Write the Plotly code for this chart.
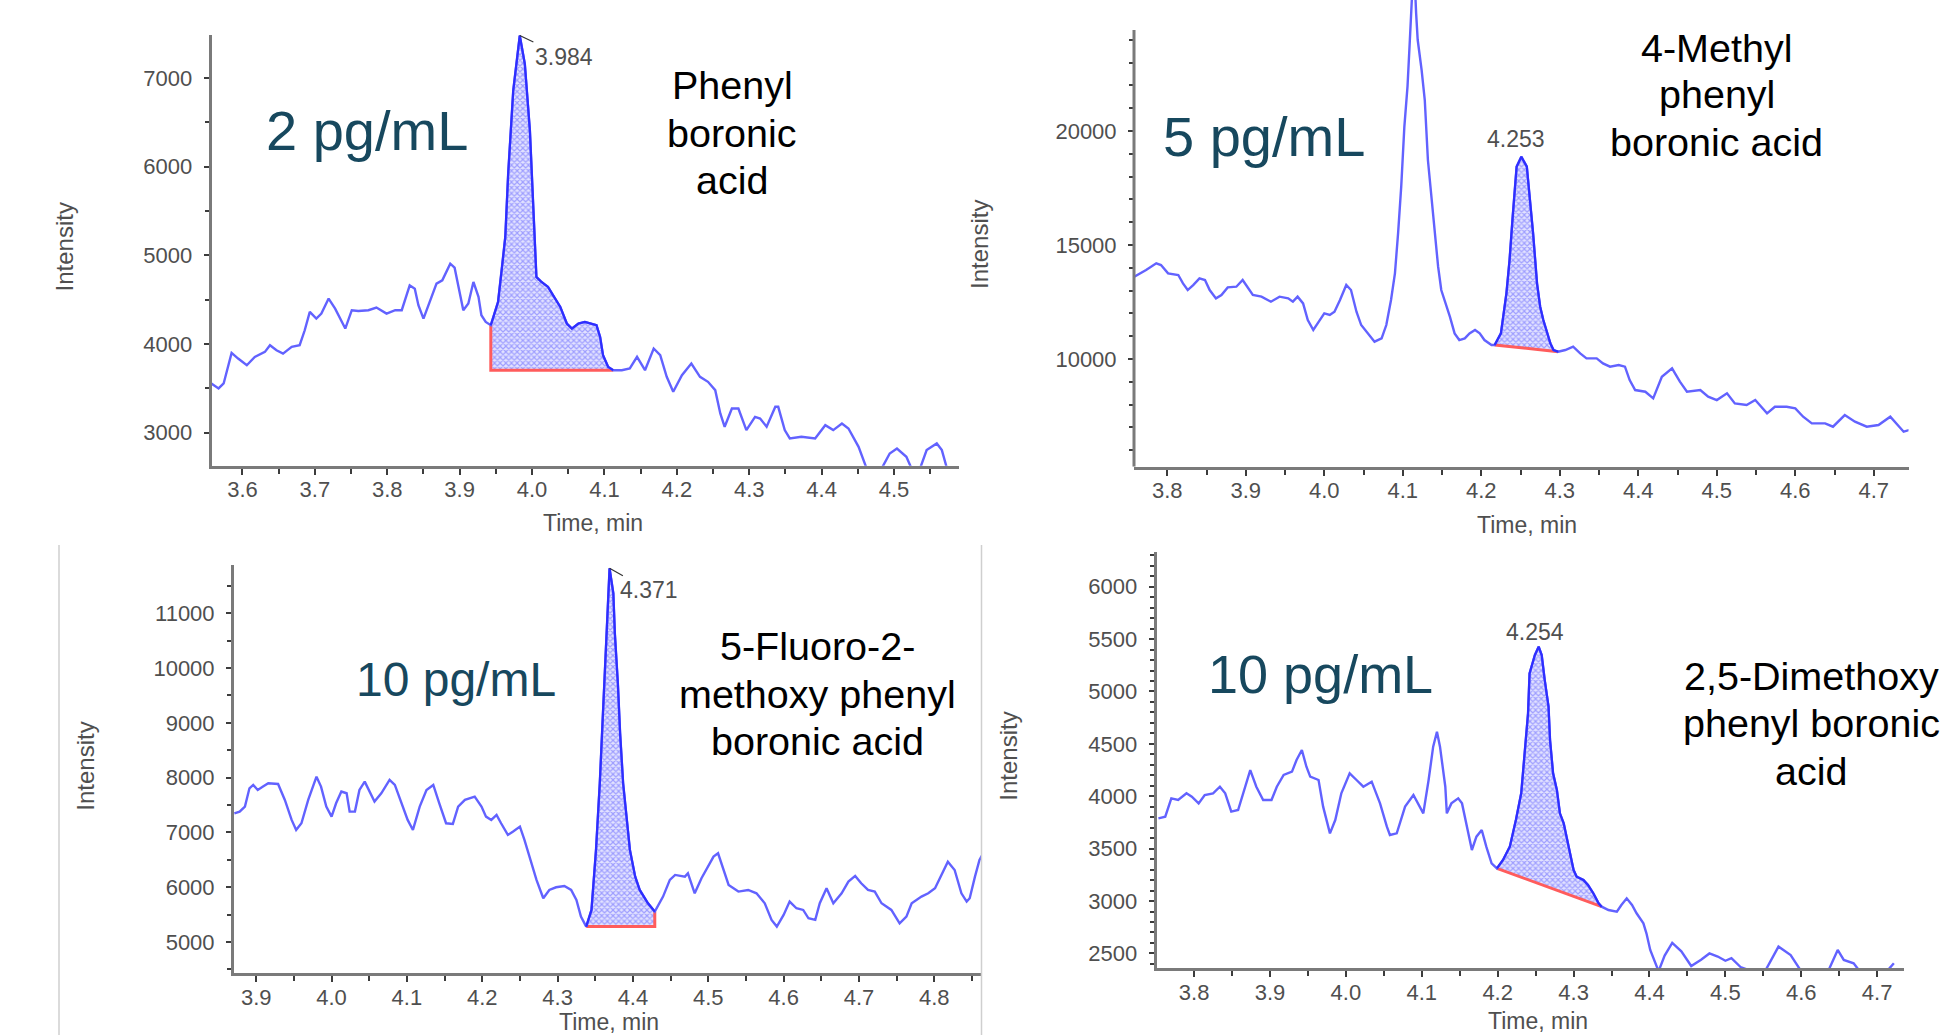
import numpy as np
import plotly.graph_objects as go

W, H = 1946, 1035

# ---------------- Panel 1: Phenyl boronic acid, 2 pg/mL ----------------
t1 = [3.557, 3.567, 3.574, 3.585, 3.594, 3.606, 3.617, 3.631, 3.638, 3.647,
      3.656, 3.668, 3.679, 3.686, 3.693, 3.702, 3.709, 3.719, 3.728, 3.742,
      3.751, 3.760, 3.774, 3.785, 3.799, 3.811, 3.820, 3.827, 3.831, 3.838,
      3.843, 3.850, 3.861, 3.868, 3.876, 3.887, 3.893, 3.900, 3.905, 3.912,
      3.919, 3.926, 3.930, 3.936, 3.943, 3.953, 3.958, 3.963, 3.967, 3.974,
      3.983, 3.990, 3.997, 4.002, 4.006, 4.013, 4.022, 4.039, 4.048, 4.055,
      4.064, 4.073, 4.089, 4.094, 4.098, 4.105, 4.112, 4.124, 4.135, 4.145,
      4.156, 4.168, 4.177, 4.186, 4.195, 4.207, 4.220, 4.232, 4.243, 4.253,
      4.260, 4.266, 4.276, 4.285, 4.296, 4.308, 4.315, 4.324, 4.336, 4.340,
      4.349, 4.356, 4.372, 4.391, 4.405, 4.416, 4.428, 4.437, 4.451, 4.462,
      4.483, 4.494, 4.504, 4.517, 4.524, 4.536, 4.545, 4.559, 4.566, 4.573]
i1 = [3556, 3500, 3556, 3901, 3837, 3762, 3856, 3912, 3987, 3931,
      3893, 3969, 3987, 4156, 4363, 4288, 4344, 4513, 4400, 4175,
      4382, 4374, 4382, 4412, 4344, 4382, 4382, 4569, 4663, 4625,
      4438, 4288, 4532, 4682, 4719, 4907, 4862, 4569, 4382, 4457,
      4701, 4532, 4325, 4250, 4213, 4475, 4832, 5208, 5921, 6859,
      7479, 7160, 6409, 5470, 4757, 4701, 4645, 4419, 4232, 4175,
      4232, 4250, 4213, 4081, 3875, 3744, 3706, 3706, 3725, 3856,
      3706, 3950, 3875, 3631, 3462, 3650, 3781, 3631, 3575, 3481,
      3218, 3068, 3274, 3274, 3030, 3180, 3161, 3068, 3293, 3293,
      3030, 2936, 2955, 2936, 3086, 3030, 3105, 3049, 2842, 2600,
      2600, 2767, 2823, 2730, 2600, 2600, 2805, 2880, 2805, 2600]
base1_t = [3.943, 3.943, 4.112]
base1_i = [4213, 3706, 3706]
rt1 = "3.984"

# ---------------- Panel 2: 4-Methyl phenyl boronic acid, 5 pg/mL ----------------
t2 = [3.758, 3.773, 3.786, 3.792, 3.801, 3.814, 3.820, 3.826, 3.833, 3.841,
      3.848, 3.854, 3.862, 3.869, 3.877, 3.888, 3.896, 3.903, 3.909, 3.920,
      3.932, 3.943, 3.954, 3.960, 3.966, 3.973, 3.979, 3.986, 3.992, 4.000,
      4.007, 4.013, 4.020, 4.028, 4.034, 4.041, 4.047, 4.056, 4.064, 4.073,
      4.079, 4.085, 4.090, 4.094, 4.098, 4.102, 4.106, 4.109, 4.111, 4.114,
      4.117, 4.119, 4.124, 4.128, 4.132, 4.136, 4.141, 4.145, 4.149, 4.155,
      4.160, 4.166, 4.172, 4.179, 4.185, 4.192, 4.198, 4.204, 4.213, 4.217,
      4.225, 4.232, 4.236, 4.240, 4.245, 4.251, 4.258, 4.262, 4.266, 4.271,
      4.275, 4.279, 4.283, 4.288, 4.292, 4.298, 4.307, 4.317, 4.326, 4.334,
      4.347, 4.355, 4.364, 4.375, 4.383, 4.389, 4.396, 4.409, 4.419, 4.430,
      4.443, 4.453, 4.462, 4.479, 4.489, 4.500, 4.513, 4.523, 4.538, 4.549,
      4.564, 4.574, 4.589, 4.600, 4.610, 4.621, 4.638, 4.648, 4.663, 4.676,
      4.691, 4.706, 4.721, 4.729, 4.738, 4.745]
i2 = [13611, 13903, 14196, 14123, 13757, 13684, 13319, 13026, 13246, 13538,
      13465, 13026, 12661, 12807, 13143, 13172, 13465, 13099, 12807, 12734,
      12515, 12734, 12661, 12515, 12734, 12441, 11711, 11272, 11564, 12003,
      11930, 12076, 12588, 13246, 13026, 12076, 11491, 11126, 10760, 10906,
      11491, 12588, 13757, 15512, 17558, 20190, 21945, 23991, 25161, 27500,
      25161, 23991, 22675, 21360, 18728, 17266, 15512, 14050, 13026, 12441,
      11857, 11126, 10833, 10906, 11126, 11272, 11126, 10833, 10614, 10614,
      11126, 12880, 14342, 16243, 18436, 18874, 18436, 16974, 15512, 13319,
      12295, 11711, 11272, 10687, 10395, 10322, 10395, 10541, 10249, 10029,
      10029, 9810, 9664, 9737, 9664, 9079, 8640, 8567, 8275, 9225,
      9591, 9006, 8567, 8640, 8348, 8201, 8494, 8055, 7982, 8201,
      7617, 7909, 7909, 7836, 7471, 7178, 7178, 7032, 7544, 7251,
      7032, 7105, 7471, 7178, 6813, 6886]
base2_t = [4.217, 4.298]
base2_i = [10614, 10322]
rt2 = "4.253"

# ---------------- Panel 3: 5-Fluoro-2-methoxy phenyl boronic acid, 10 pg/mL ----------------
t3 = [3.871, 3.878, 3.885, 3.891, 3.896, 3.902, 3.909, 3.916, 3.929, 3.938,
      3.947, 3.953, 3.960, 3.969, 3.980, 3.986, 3.993, 4.000, 4.006, 4.013,
      4.020, 4.024, 4.031, 4.037, 4.044, 4.051, 4.057, 4.066, 4.077, 4.084,
      4.093, 4.101, 4.108, 4.117, 4.126, 4.135, 4.143, 4.152, 4.161, 4.168,
      4.177, 4.190, 4.199, 4.205, 4.212, 4.219, 4.225, 4.234, 4.241, 4.250,
      4.256, 4.263, 4.272, 4.281, 4.289, 4.298, 4.309, 4.318, 4.325, 4.331,
      4.338, 4.345, 4.351, 4.356, 4.360, 4.365, 4.367, 4.369, 4.374, 4.376,
      4.380, 4.383, 4.387, 4.392, 4.396, 4.403, 4.409, 4.420, 4.429, 4.440,
      4.449, 4.456, 4.469, 4.473, 4.482, 4.491, 4.500, 4.507, 4.513, 4.520,
      4.527, 4.540, 4.553, 4.564, 4.575, 4.584, 4.591, 4.600, 4.608, 4.617,
      4.626, 4.633, 4.642, 4.648, 4.657, 4.666, 4.677, 4.686, 4.695, 4.703,
      4.712, 4.721, 4.730, 4.743, 4.754, 4.763, 4.770, 4.783, 4.792, 4.801,
      4.810, 4.818, 4.827, 4.836, 4.843, 4.847, 4.854, 4.860, 4.865]
i3 = [7350, 7381, 7472, 7806, 7867, 7776, 7837, 7898, 7885, 7594,
      7229, 7046, 7168, 7594, 8019, 7837, 7472, 7289, 7533, 7746,
      7715, 7381, 7381, 7776, 7928, 7746, 7563, 7715, 7959, 7867,
      7533, 7229, 7046, 7472, 7776, 7867, 7533, 7168, 7156, 7472,
      7594, 7654, 7472, 7289, 7229, 7320, 7168, 6955, 7016, 7107,
      6863, 6559, 6134, 5799, 5951, 6000, 6024, 5951, 5769, 5465,
      5282, 5586, 6681, 7898, 9114, 10635, 11365, 11821, 11365, 10635,
      9723, 8810, 7898, 7289, 6681, 6194, 5951, 5708, 5556, 5830,
      6134, 6225, 6194, 6255, 5890, 6164, 6377, 6559, 6620, 6316,
      6042, 5921, 5951, 5890, 5708, 5404, 5282, 5495, 5738, 5617,
      5586, 5434, 5404, 5708, 5981, 5708, 5890, 6103, 6207, 6073,
      5951, 5921, 5708, 5586, 5343, 5465, 5708, 5830, 5890, 5981,
      6255, 6468, 6316, 5890, 5738, 5799, 6194, 6498, 6620]
base3_t = [4.338, 4.429, 4.429]
base3_i = [5282, 5282, 5556]
rt3 = "4.371"

# ---------------- Panel 4: 2,5-Dimethoxy phenyl boronic acid, 10 pg/mL ----------------
t4 = [3.753, 3.762, 3.770, 3.779, 3.790, 3.797, 3.806, 3.814, 3.825, 3.834,
      3.841, 3.849, 3.858, 3.865, 3.874, 3.882, 3.891, 3.902, 3.909, 3.918,
      3.929, 3.935, 3.942, 3.948, 3.953, 3.964, 3.970, 3.979, 3.986, 3.994,
      4.005, 4.014, 4.023, 4.034, 4.045, 4.054, 4.058, 4.067, 4.078, 4.089,
      4.095, 4.102, 4.109, 4.115, 4.120, 4.124, 4.131, 4.133, 4.139, 4.148,
      4.153, 4.159, 4.166, 4.172, 4.179, 4.185, 4.192, 4.199, 4.207, 4.216,
      4.224, 4.231, 4.236, 4.240, 4.242,
      4.249, 4.254, 4.258, 4.262, 4.267,
      4.269, 4.273, 4.278, 4.282, 4.287, 4.291, 4.295, 4.300, 4.304, 4.313,
      4.319, 4.326, 4.333, 4.337, 4.346, 4.357, 4.363, 4.370, 4.377, 4.383,
      4.392, 4.396, 4.401, 4.405,
      4.412, 4.420, 4.430, 4.442, 4.455, 4.468, 4.479, 4.490, 4.500, 4.508,
      4.520, 4.535, 4.553, 4.570, 4.586, 4.599, 4.620, 4.636, 4.648, 4.656,
      4.669, 4.677, 4.700, 4.714, 4.722]
i4 = [3789, 3805, 3980, 3964, 4028, 3996, 3932, 4012, 4028, 4091,
      4028, 3853, 3869, 4028, 4250, 4091, 3964, 3964, 4091, 4203,
      4235, 4346, 4441, 4282, 4187, 4155, 3901, 3646, 3773, 4028,
      4219, 4155, 4091, 4139, 3932, 3710, 3630, 3646, 3901, 4012,
      3932, 3837, 4155, 4473, 4616, 4473, 4091, 3837, 3932, 3980,
      3932, 3710, 3487, 3614, 3678, 3519, 3360, 3312, 3392, 3519,
      3773, 4028, 4410, 4791, 5173,
      5348, 5427, 5348, 5109, 4855,
      4537, 4219, 4060, 3837, 3742, 3614, 3455, 3296, 3233, 3201,
      3153, 3074, 2978, 2946, 2914, 2898, 2962, 3026, 2962, 2883,
      2787, 2692, 2533, 2454,
      2330, 2480, 2600, 2520, 2380, 2440, 2500, 2470, 2430, 2455,
      2370, 2330, 2340, 2565, 2485, 2340, 2320, 2340, 2533, 2438,
      2406, 2330, 2320, 2340, 2406]
base4_t = [4.199, 4.337]
base4_i = [3312, 2946]
rt4 = "4.254"

conc = ["2 pg/mL", "5 pg/mL", "10 pg/mL", "10 pg/mL"]
names = [["Phenyl", "boronic", "acid"],
         ["4-Methyl", "phenyl", "boronic acid"],
         ["5-Fluoro-2-", "methoxy phenyl", "boronic acid"],
         ["2,5-Dimethoxy", "phenyl boronic", "acid"]]

y2_ticks = [10000, 15000, 20000]

# ---------------- styling ----------------
FONT = "Liberation Sans, Arial, sans-serif"
LINE = "#6262ff"
PEAK = "#2e2eff"
RED = "#ff5c5c"
TEAL = "#17485e"
GRAY = "#4f4f4f"
AXC = "#7a7a7a"

fig = go.Figure()


def px(x, y):
    return x / W, 1 - y / H


panels = [
    dict(t=t1, i=i1, bt=base1_t, bi=base1_i),
    dict(t=t2, i=i2, bt=base2_t, bi=base2_i),
    dict(t=t3, i=i3, bt=base3_t, bi=base3_i),
    dict(t=t4, i=i4, bt=base4_t, bi=base4_i),
]

for k, p in enumerate(panels, start=1):
    xa = "x" if k == 1 else f"x{k}"
    ya = "y" if k == 1 else f"y{k}"
    t = np.array(p["t"])
    iv = np.array(p["i"])
    lo, hi = min(p["bt"]), max(p["bt"])
    m = (t >= lo - 1e-9) & (t <= hi + 1e-9)
    poly_x = list(t[m]) + list(p["bt"][::-1])
    poly_y = list(iv[m]) + list(p["bi"][::-1])
    fig.add_trace(go.Scatter(x=poly_x, y=poly_y, xaxis=xa, yaxis=ya, mode="lines",
                             line=dict(width=0), fill="toself", fillcolor="#dcdcff",
                             fillpattern=dict(shape="x", fgcolor="#5a5aff", bgcolor="#e2e2ff",
                                              size=4, solidity=0.5),
                             hoverinfo="skip", showlegend=False))
    fig.add_trace(go.Scatter(x=p["bt"], y=p["bi"], xaxis=xa, yaxis=ya, mode="lines",
                             line=dict(color=RED, width=3), showlegend=False))
    fig.add_trace(go.Scatter(x=t, y=iv, xaxis=xa, yaxis=ya, mode="lines",
                             line=dict(color=LINE, width=2.4), showlegend=False))
    fig.add_trace(go.Scatter(x=t[m], y=iv[m], xaxis=xa, yaxis=ya, mode="lines",
                             line=dict(color=PEAK, width=2.2), showlegend=False))

tickfont = dict(family=FONT, size=22, color=GRAY)


def xaxis(rng, dom, anchor):
    return dict(range=rng, domain=dom, anchor=anchor, showline=True, linecolor=AXC,
                linewidth=3, ticks="outside", ticklen=6, tickwidth=2, tickcolor="#3c3c3c",
                tick0=0, dtick=0.1, tickformat=".1f", showgrid=False, zeroline=False,
                tickfont=tickfont, ticklabelstandoff=-4,
                minor=dict(ticks="outside", tick0=0, dtick=0.05, ticklen=5, tickwidth=2,
                           tickcolor="#3c3c3c", showgrid=False))


def yaxis(rng, dom, anchor, dtick, mdtick, showline=True):
    return dict(range=rng, domain=dom, anchor=anchor, showline=showline, linecolor=AXC,
                linewidth=3, ticks="outside", ticklen=5, tickwidth=2, tickcolor="#3c3c3c",
                tick0=0, dtick=dtick, tickformat="d", exponentformat="none",
                showgrid=False, zeroline=False, tickfont=tickfont, ticklabelstandoff=7,
                minor=dict(ticks="outside", tick0=0, dtick=mdtick, ticklen=4, tickwidth=2,
                           tickcolor="#3c3c3c", showgrid=False))


y2_minor = [v for v in range(6000, 25000, 1000) if v % 5000 != 0]

fig.update_layout(
    width=W, height=H, autosize=False, margin=dict(l=0, r=0, t=0, b=0),
    paper_bgcolor="white", plot_bgcolor="white", showlegend=False,
    xaxis=xaxis([3.5575, 4.5897], [211.7 / W, 959 / W], "y"),
    yaxis=yaxis([2629, 7485], [1 - 465.7 / H, 1 - 35 / H], "x", 1000, 500),
    xaxis2=xaxis([3.7576, 4.7442], [1134 / W, 1908.5 / W], "y2"),
    yaxis2=yaxis([5278, 25746], [1 - 466.7 / H, 1.0], "x2", 5000, 1000, showline=False),
    xaxis3=xaxis([3.8705, 4.862], [234 / W, 981 / W], "y3"),
    yaxis3=yaxis([4430, 11881], [1 - 973.3 / H, 1 - 565 / H], "x3", 1000, 500),
    xaxis4=xaxis([3.7506, 4.7347], [1156.6 / W, 1903.5 / W], "y4"),
    yaxis4=yaxis([2358, 6334], [1 - 968.3 / H, 1 - 551.7 / H], "x4", 500, 100),
)
fig.layout.yaxis2.tickmode = "array"
fig.layout.yaxis2.tickvals = y2_ticks
fig.layout.yaxis2.minor.tickmode = "array"
fig.layout.yaxis2.minor.tickvals = y2_minor

shapes = [
    # y axis line of panel 2 (shorter than the clipped plot area)
    dict(type="line", xref="x2 domain", yref="y2", x0=0, x1=0, y0=5278, y1=24430,
         line=dict(color=AXC, width=3)),
    # screenshot frame lines of lower-left panel
    dict(type="line", xref="paper", yref="paper", x0=59 / W, x1=59 / W, y0=0, y1=1 - 545 / H,
         line=dict(color="#cfcfcf", width=1.5)),
    dict(type="line", xref="paper", yref="paper", x0=981.5 / W, x1=981.5 / W, y0=0,
         y1=1 - 545 / H, line=dict(color="#cfcfcf", width=1.5)),
]
fig.update_layout(shapes=shapes)

ann = []


def text(x, y, s, size, color="black", angle=0):
    xp, yp = px(x, y)
    ann.append(dict(x=xp, y=yp, xref="paper", yref="paper", text=s, showarrow=False,
                    xanchor="center", yanchor="middle", textangle=angle,
                    font=dict(family=FONT, size=size, color=color)))


# concentration labels (x centre, cap centre y, size)
for (cx, cy, sz), s in zip([(366.5, 130.8, 56), (1264, 136.7, 56), (455.5, 679, 48), (1320.8, 674, 54)], conc):
    text(cx, cy, s, sz, TEAL)

# compound names (x centre, baselines)
name_pos = [(732, [99.3, 146.7, 194], 39.5), (1716.7, [61.7, 108.3, 156], 39.5),
            (817.5, [660, 708.3, 755], 39.5), (1811, [690, 736.7, 785], 39.5)]
for (cx, bls, sz), lines in zip(name_pos, names):
    for bl, s in zip(bls, lines):
        text(cx, bl - 0.35 * sz, s, sz, "black")

# axis titles
for (x, y) in [(63.5, 247), (980, 245), (86, 766.7), (1009, 756.7)]:
    text(x, y, "Intensity", 24, GRAY, angle=-90)
for (x, y) in [(593, 523), (1527, 524.5), (609, 1022), (1538, 1021)]:
    text(x, y, "Time, min", 23, GRAY)

# retention-time labels
ann.append(dict(x=3.983, y=7479, xref="x", yref="y", text=rt1, showarrow=True, arrowhead=0,
                arrowwidth=1.2, arrowcolor="#333333", ax=44, ay=21,
                font=dict(family=FONT, size=23, color=GRAY)))
ann.append(dict(x=4.369, y=11821, xref="x3", yref="y3", text=rt3, showarrow=True, arrowhead=0,
                arrowwidth=1.2, arrowcolor="#333333", ax=39, ay=22,
                font=dict(family=FONT, size=23, color=GRAY)))
text(1516, 139, rt2, 23, GRAY)
text(1535.4, 632, rt4, 23, GRAY)

fig.update_layout(annotations=ann)
fig.write_html("out.html", config={"displayModeBar": False},
               post_script=["document.body.style.margin='0';document.body.style.overflow='hidden';"])
